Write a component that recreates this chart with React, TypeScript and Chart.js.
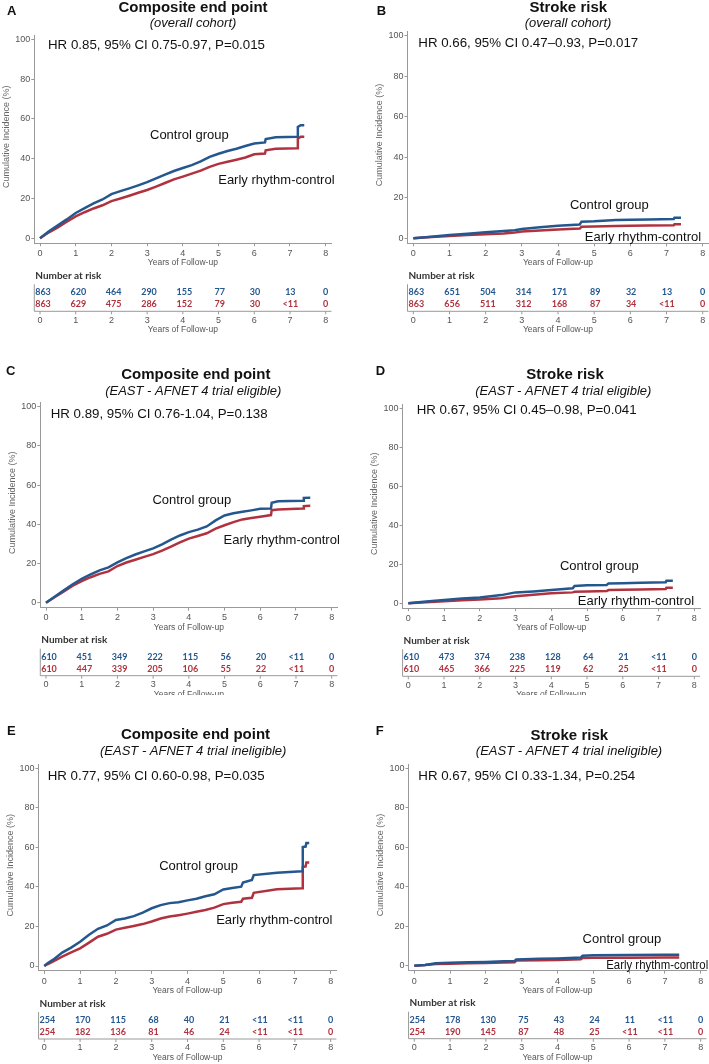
import React, { useEffect, useRef } from "react";
import { Chart, registerables } from "chart.js";
Chart.register(...registerables);

// ---------- DATA ----------
const yearTicks = [0, 1, 2, 3, 4, 5, 6, 7, 8];
const incidenceTicks = [0, 20, 40, 60, 80, 100];

// Panel A – Composite end point (overall cohort)
const aTimes = [0, 0.25, 0.5, 0.75, 1, 1.25, 1.5, 1.75, 2, 2.25, 2.5, 2.75, 3, 3.25, 3.5, 3.75, 4, 4.25, 4.5, 4.75, 5, 5.25, 5.5, 5.75, 6, 6.3, 6.32, 6.6, 7.2, 7.22, 7.3, 7.4];
const aControl = [0, 3.5, 6.5, 9.5, 12.7, 15.2, 17.5, 19.5, 22.2, 23.7, 25.1, 26.6, 28.2, 30.1, 32.0, 33.8, 35.3, 36.8, 38.6, 40.9, 42.5, 43.9, 45.0, 46.4, 47.6, 48.2, 49.9, 50.8, 51.0, 56.0, 56.8, 56.8];
const aEarly = [0, 3.0, 5.5, 8.3, 11.0, 13.1, 15.0, 16.6, 18.7, 20.0, 21.4, 22.9, 24.3, 26.0, 27.8, 29.6, 31.0, 32.5, 34.0, 35.9, 37.4, 38.5, 39.5, 40.6, 42.2, 42.6, 44.2, 45.0, 45.3, 50.0, 51.0, 51.0];
const aRiskControl = ["863", "620", "464", "290", "155", "77", "30", "13", "0"];
const aRiskEarly = ["863", "629", "475", "286", "152", "79", "30", "<11", "0"];

// Panel B – Stroke risk (overall cohort)
const bTimes = [0, 0.5, 1, 1.5, 2, 2.5, 2.8, 3, 3.5, 4, 4.6, 4.65, 5, 5.6, 6, 6.5, 7.2, 7.22, 7.4];
const bControl = [0, 0.8, 1.6, 2.3, 3.0, 3.6, 4.0, 4.6, 5.4, 6.2, 6.8, 8.2, 8.4, 9.0, 9.1, 9.3, 9.5, 10.2, 10.2];
const bEarly = [0, 0.6, 1.1, 1.6, 2.0, 2.4, 2.8, 3.4, 3.9, 4.4, 4.8, 5.7, 5.8, 6.1, 6.2, 6.3, 6.4, 6.9, 6.9];
const bRiskControl = ["863", "651", "504", "314", "171", "89", "32", "13", "0"];
const bRiskEarly = ["863", "656", "511", "312", "168", "87", "34", "<11", "0"];

// Panel C – Composite end point (trial eligible)
const cTimes = [0, 0.25, 0.5, 0.75, 1, 1.25, 1.5, 1.75, 2, 2.25, 2.5, 2.75, 3, 3.25, 3.5, 3.75, 4, 4.25, 4.5, 4.75, 5, 5.25, 5.5, 5.75, 6, 6.3, 6.32, 6.5, 7.2, 7.22, 7.4];
const cControl = [0, 3.2, 6.3, 9.4, 12.2, 14.4, 16.5, 18.0, 20.6, 22.7, 24.6, 26.2, 27.7, 29.8, 32.2, 34.3, 36.0, 37.3, 38.9, 42.0, 44.5, 45.6, 46.4, 47.1, 47.9, 48.1, 51.0, 51.8, 52.0, 53.5, 53.6];
const cEarly = [0, 2.9, 5.8, 8.7, 11.0, 13.0, 14.7, 16.0, 18.7, 20.5, 21.9, 23.4, 24.8, 26.6, 28.6, 30.8, 32.7, 34.0, 35.4, 37.8, 39.5, 41.1, 42.5, 43.2, 43.9, 44.7, 47.2, 47.6, 48.1, 49.3, 49.5];
const cRiskControl = ["610", "451", "349", "222", "115", "56", "20", "<11", "0"];
const cRiskEarly = ["610", "447", "339", "205", "106", "55", "22", "<11", "0"];

// Panel D – Stroke risk (trial eligible)
const dTimes = [0, 0.5, 1, 1.5, 2, 2.6, 3, 3.5, 4, 4.6, 4.65, 5, 5.55, 5.6, 6, 6.5, 7.2, 7.22, 7.4];
const dControl = [0, 0.9, 1.7, 2.4, 3.0, 4.2, 5.6, 6.1, 6.8, 7.7, 8.9, 9.2, 9.4, 10.2, 10.3, 10.5, 10.8, 11.6, 11.6];
const dEarly = [0, 0.5, 1.0, 1.6, 2.0, 2.6, 3.6, 4.4, 5.1, 5.6, 5.9, 6.1, 6.3, 6.8, 6.9, 7.1, 7.3, 8.0, 8.0];
const dRiskControl = ["610", "473", "374", "238", "128", "64", "21", "<11", "0"];
const dRiskEarly = ["610", "465", "366", "225", "119", "62", "25", "<11", "0"];

// Panel E – Composite end point (trial ineligible)
const eTimes = [0, 0.1, 0.25, 0.5, 0.75, 1, 1.25, 1.5, 1.75, 2, 2.25, 2.5, 2.75, 3, 3.25, 3.5, 3.75, 4, 4.25, 4.5, 4.75, 5, 5.25, 5.5, 5.55, 5.8, 5.85, 6.5, 7.2, 7.22, 7.3, 7.32, 7.4];
const eControl = [0, 1.5, 3.2, 6.8, 9.3, 12.3, 15.8, 18.8, 20.5, 23.3, 24.0, 25.2, 27.0, 29.2, 30.8, 31.8, 32.3, 33.2, 34.0, 35.3, 36.3, 38.7, 39.5, 40.1, 42.2, 43.5, 46.0, 47.2, 47.9, 60.2, 60.4, 62.2, 62.2];
const eEarly = [0, 1.0, 2.3, 4.7, 6.9, 8.9, 11.8, 14.8, 16.3, 18.4, 19.3, 20.2, 21.2, 22.5, 24.0, 25.0, 25.7, 26.5, 27.4, 28.3, 29.5, 31.3, 32.0, 32.5, 34.0, 34.5, 37.0, 38.8, 39.3, 50.0, 50.3, 52.3, 52.3];
const eRiskControl = ["254", "170", "115", "68", "40", "21", "<11", "<11", "0"];
const eRiskEarly = ["254", "182", "136", "81", "46", "24", "<11", "<11", "0"];

// Panel F – Stroke risk (trial ineligible)
const fTimes = [0, 0.3, 0.6, 1, 1.5, 2, 2.5, 2.8, 2.85, 3.5, 4, 4.65, 4.7, 5, 6, 7, 7.4];
const fControl = [0, 0.4, 1.2, 1.5, 1.7, 1.9, 2.2, 2.4, 3.2, 3.5, 3.7, 4.1, 5.1, 5.3, 5.4, 5.5, 5.5];
const fEarly = [0, 0.3, 0.9, 1.0, 1.2, 1.4, 1.6, 1.7, 2.6, 2.8, 2.9, 3.2, 3.9, 4.0, 4.0, 4.1, 4.1];
const fRiskControl = ["254", "178", "130", "75", "43", "24", "11", "<11", "0"];
const fRiskEarly = ["254", "190", "145", "87", "48", "25", "<11", "<11", "0"];

const titles = ["Composite end point", "Stroke risk", "Composite end point", "Stroke risk", "Composite end point", "Stroke risk"];
const subtitles = ["(overall cohort)", "(overall cohort)", "(EAST - AFNET 4 trial eligible)", "(EAST - AFNET 4 trial eligible)", "(EAST - AFNET 4 trial ineligible)", "(EAST - AFNET 4 trial ineligible)"];
const hrTexts = [
  "HR 0.85, 95% CI 0.75-0.97, P=0.015",
  "HR 0.66, 95% CI 0.47\u20130.93, P=0.017",
  "HR 0.89, 95% CI 0.76-1.04, P=0.138",
  "HR 0.67, 95% CI 0.45\u20130.98, P=0.041",
  "HR 0.77, 95% CI 0.60-0.98, P=0.035",
  "HR 0.67, 95% CI 0.33-1.34, P=0.254",
];
const letters = ["A", "B", "C", "D", "E", "F"];

// ---------- STYLE / LAYOUT ----------
const BLUE = "#25578f";
const RED = "#b1323f";
const FONT = '"Liberation Sans", Arial, sans-serif';
const TFONT = 'Lato, "Liberation Sans", sans-serif';
const X_MIN = -0.16, X_MAX = 8.16, Y_MIN = -2.5, Y_MAX = 102;
const YW = 30, XH = 24;

type Panel = {
  letter: string; title: string; subtitle: string; hr: string;
  times: number[]; control: number[]; early: number[];
  riskControl: string[]; riskEarly: string[];
  box: number[]; x0: number; x8: number; y0: number; y100: number;
  letterXY: number[]; titleXY: number[]; subXY: number[]; hrXY: number[];
  ctrlLabel: number[]; earlyLabel: number[]; earlyW: number;
};

const series = [
  [aTimes, aControl, aEarly, aRiskControl, aRiskEarly],
  [bTimes, bControl, bEarly, bRiskControl, bRiskEarly],
  [cTimes, cControl, cEarly, cRiskControl, cRiskEarly],
  [dTimes, dControl, dEarly, dRiskControl, dRiskEarly],
  [eTimes, eControl, eEarly, eRiskControl, eRiskEarly],
  [fTimes, fControl, fEarly, fRiskControl, fRiskEarly],
] as any[];

const layouts = [
  { box: [0, 0, 354, 345], x0: 40, x8: 325.7, y0: 238.3, y100: 39.3, letterXY: [7, 11], titleXY: [193, 7.5], subXY: [193, 23.3], hrXY: [48, 45], ctrlLabel: [3.08, 51.9], earlyLabel: [4.99, 29.3], earlyW: 119 },
  { box: [354, 0, 355, 345], x0: 413.3, x8: 702.7, y0: 238.3, y100: 35.7, letterXY: [376.7, 11], titleXY: [568.3, 7.5], subXY: [568, 23.3], hrXY: [418.3, 43.3], ctrlLabel: [4.33, 16.4], earlyLabel: [4.74, 0.5], earlyW: 118 },
  { box: [0, 345, 354, 350], x0: 46, x8: 331.7, y0: 602.7, y100: 406.7, letterXY: [6, 371.7], titleXY: [195.8, 375], subXY: [193.3, 391.7], hrXY: [50.7, 414.3], ctrlLabel: [2.98, 52.4], earlyLabel: [4.97, 31.6], earlyW: 118 },
  { box: [354, 345, 355, 350], x0: 408.3, x8: 694.3, y0: 603.3, y100: 408.3, letterXY: [375.7, 371.7], titleXY: [565, 375], subXY: [563.3, 391.7], hrXY: [416.7, 410.7], ctrlLabel: [4.24, 18.8], earlyLabel: [4.74, 0.8], earlyW: 117 },
  { box: [0, 695, 354, 369], x0: 44.3, x8: 330.7, y0: 966, y100: 768.3, letterXY: [7, 731.7], titleXY: [195.5, 735], subXY: [193.2, 751.7], hrXY: [47.7, 776.7], ctrlLabel: [3.21, 50.2], earlyLabel: [4.8, 22.9], earlyW: 118 },
  { box: [354, 695, 355, 369], x0: 414.3, x8: 700.7, y0: 965.7, y100: 768.3, letterXY: [375.7, 731.7], titleXY: [569.3, 736], subXY: [569, 751.7], hrXY: [418.3, 776.7], ctrlLabel: [4.7, 13.5], earlyLabel: [5.36, 0], earlyW: 102 },
];

const panels: Panel[] = layouts.map((l, i) => ({
  ...l,
  letter: letters[i], title: titles[i], subtitle: subtitles[i], hr: hrTexts[i],
  times: series[i][0], control: series[i][1], early: series[i][2],
  riskControl: series[i][3], riskEarly: series[i][4],
}));

function PanelChart({ p }: { p: Panel }) {
  const ref = useRef<HTMLCanvasElement>(null);
  useEffect(() => {
    const canvas = ref.current!;
    const [cl, ct, cw, ch] = p.box;
    const ppy = (p.x8 - p.x0) / 8;
    const ppv = (p.y0 - p.y100) / 100;
    const left = p.x0 + X_MIN * ppy - cl;
    const right = p.x0 + X_MAX * ppy - cl;
    const top = p.y0 - Y_MAX * ppv - ct;
    const bottom = p.y0 - Y_MIN * ppv - ct;

    const annot = {
      id: "annot",
      afterDraw(chart: any) {
        const ctx = chart.ctx as CanvasRenderingContext2D;
        const xs = chart.scales.x, ys = chart.scales.y;
        const ca = chart.chartArea;
        const px = (v: number) => xs.getPixelForValue(v);
        const py = (v: number) => ys.getPixelForValue(v);
        const X = (v: number) => v - cl, Y = (v: number) => v - ct;
        ctx.save();
        ctx.textBaseline = "middle";
        ctx.fillStyle = "#111";
        ctx.textAlign = "left";
        ctx.font = `bold 13px ${FONT}`;
        ctx.fillText(p.letter, X(p.letterXY[0]), Y(p.letterXY[1]));
        ctx.textAlign = "center";
        ctx.font = `bold 15px ${FONT}`;
        ctx.fillText(p.title, X(p.titleXY[0]), Y(p.titleXY[1]));
        ctx.font = `italic 13px ${FONT}`;
        ctx.fillText(p.subtitle, X(p.subXY[0]), Y(p.subXY[1]));
        ctx.textAlign = "left";
        ctx.font = `13.3px ${FONT}`;
        ctx.fillText(p.hr, X(p.hrXY[0]), Y(p.hrXY[1]));
        ctx.font = `13px ${FONT}`;
        ctx.fillText("Control group", px(p.ctrlLabel[0]), py(p.ctrlLabel[1]));
        ctx.fillText("Early rhythm-control", px(p.earlyLabel[0]), py(p.earlyLabel[1]), p.earlyW);

        // y-axis title
        ctx.save();
        ctx.translate(ca.left - 28, py(51));
        ctx.rotate(-Math.PI / 2);
        ctx.textAlign = "center";
        ctx.fillStyle = "#666";
        ctx.font = `9px ${FONT}`;
        ctx.fillText("Cumulative Incidence (%)", 0, 0);
        ctx.restore();

        const y0 = py(0);
        // x-axis title
        ctx.textAlign = "center";
        ctx.fillStyle = "#555";
        ctx.font = `8.5px ${FONT}`;
        ctx.fillText("Years of Follow-up", px(4), y0 + 24.5);

        // risk table
        ctx.textAlign = "left";
        ctx.fillStyle = "#333";
        ctx.font = `bold 10px ${TFONT}`;
        ctx.fillText("Number at risk", ca.left + 1, y0 + 37.5);
        ctx.textAlign = "center";
        ctx.font = `bold 9px ${TFONT}`;
        yearTicks.forEach((v, i) => {
          const xx = px(v) + 3 * (1 - v / 8);
          ctx.fillStyle = BLUE;
          ctx.fillText(p.riskControl[i], xx, y0 + 54);
          ctx.fillStyle = RED;
          ctx.fillText(p.riskEarly[i], xx, y0 + 66);
        });
        ctx.strokeStyle = "#999";
        ctx.lineWidth = 1;
        ctx.beginPath();
        ctx.moveTo(ca.left, y0 + 46);
        ctx.lineTo(ca.left, y0 + 73);
        ctx.lineTo(ca.right, y0 + 73);
        yearTicks.forEach((v) => {
          ctx.moveTo(px(v), y0 + 73);
          ctx.lineTo(px(v), y0 + 76);
        });
        ctx.stroke();
        ctx.fillStyle = "#555";
        ctx.font = `9px ${FONT}`;
        yearTicks.forEach((v) => ctx.fillText(String(v), px(v), y0 + 82));
        ctx.font = `8.5px ${FONT}`;
        ctx.fillText("Years of Follow-up", px(4), y0 + 91.5);
        ctx.restore();
      },
    };

    const chart = new Chart(canvas, {
      type: "line",
      data: {
        datasets: [
          { label: "Control group", data: p.times.map((t, i) => ({ x: t, y: p.control[i] })), borderColor: BLUE, borderWidth: 2.5, pointRadius: 0, fill: false, tension: 0 },
          { label: "Early rhythm-control", data: p.times.map((t, i) => ({ x: t, y: p.early[i] })), borderColor: RED, borderWidth: 2.5, pointRadius: 0, fill: false, tension: 0 },
        ],
      },
      options: {
        responsive: false,
        maintainAspectRatio: false,
        animation: false,
        events: [],
        layout: { padding: { left: left - YW, right: cw - right, top: top, bottom: ch - bottom - XH } },
        plugins: { legend: { display: false }, tooltip: { enabled: false }, title: { display: false } },
        scales: {
          x: {
            type: "linear", min: X_MIN, max: X_MAX,
            afterBuildTicks: (s: any) => { s.ticks = yearTicks.map((v) => ({ value: v })); },
            afterFit: (s: any) => { s.height = XH; },
            grid: { display: true, drawOnChartArea: false, drawTicks: true, tickLength: 3, color: "#999" },
            border: { display: true, color: "#999", width: 1 },
            ticks: { font: { family: FONT, size: 9 }, color: "#555", padding: 2, maxRotation: 0, autoSkip: false },
          },
          y: {
            type: "linear", min: Y_MIN, max: Y_MAX,
            afterBuildTicks: (s: any) => { s.ticks = incidenceTicks.map((v) => ({ value: v })); },
            afterFit: (s: any) => { s.width = YW; },
            grid: { display: true, drawOnChartArea: false, drawTicks: true, tickLength: 3, color: "#999" },
            border: { display: true, color: "#999", width: 1 },
            ticks: { font: { family: FONT, size: 9 }, color: "#555", padding: 1, autoSkip: false },
          },
        },
      } as any,
      plugins: [annot],
    });
    return () => chart.destroy();
  }, []);
  const [cl, ct, cw, ch] = p.box;
  return <canvas ref={ref} width={cw} height={ch} style={{ position: "absolute", left: cl, top: ct, width: cw, height: ch }} />;
}

export default function App() {
  return (
    <div style={{ position: "fixed", left: 0, top: 0, width: 709, height: 1064, background: "#fff", overflow: "hidden" }}>
      {panels.map((p, i) => <PanelChart key={i} p={p} />)}
    </div>
  );
}
